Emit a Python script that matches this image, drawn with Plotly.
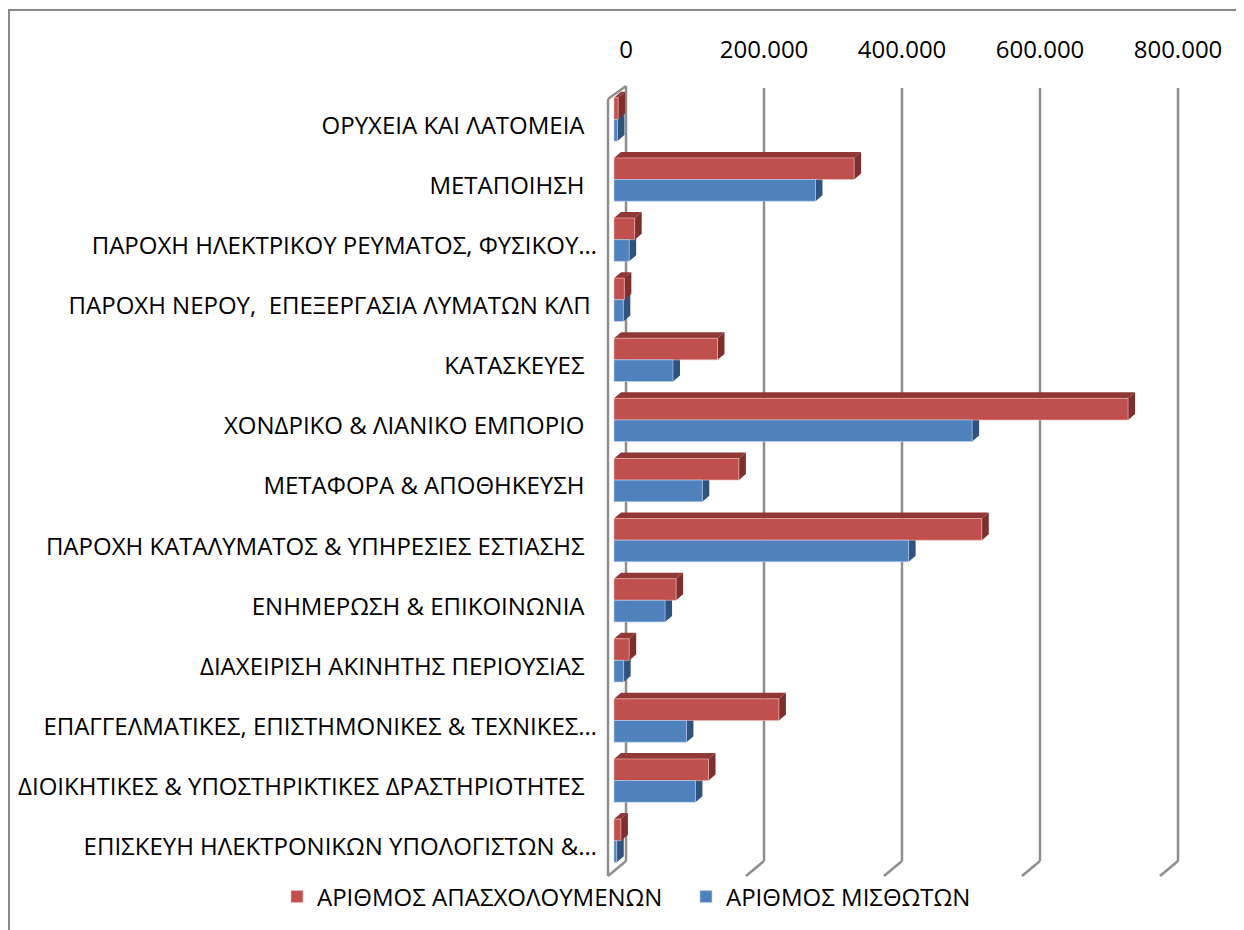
import plotly.graph_objects as go

# ---------------- data ----------------
categories = [
    "ΟΡΥΧΕΙΑ ΚΑΙ ΛΑΤΟΜΕΙΑ",
    "ΜΕΤΑΠΟΙΗΣΗ",
    "ΠΑΡΟΧΗ ΗΛΕΚΤΡΙΚΟΥ ΡΕΥΜΑΤΟΣ, ΦΥΣΙΚΟΥ…",
    "ΠΑΡΟΧΗ ΝΕΡΟΥ,\u00a0 ΕΠΕΞΕΡΓΑΣΙΑ ΛΥΜΑΤΩΝ ΚΛΠ",
    "ΚΑΤΑΣΚΕΥΕΣ",
    "ΧΟΝΔΡΙΚΟ & ΛΙΑΝΙΚΟ ΕΜΠΟΡΙΟ",
    "ΜΕΤΑΦΟΡΑ & ΑΠΟΘΗΚΕΥΣΗ",
    "ΠΑΡΟΧΗ ΚΑΤΑΛΥΜΑΤΟΣ & ΥΠΗΡΕΣΙΕΣ ΕΣΤΙΑΣΗΣ",
    "ΕΝΗΜΕΡΩΣΗ & ΕΠΙΚΟΙΝΩΝΙΑ",
    "ΔΙΑΧΕΙΡΙΣΗ ΑΚΙΝΗΤΗΣ ΠΕΡΙΟΥΣΙΑΣ",
    "ΕΠΑΓΓΕΛΜΑΤΙΚΕΣ, ΕΠΙΣΤΗΜΟΝΙΚΕΣ & ΤΕΧΝΙΚΕΣ…",
    "ΔΙΟΙΚΗΤΙΚΕΣ & ΥΠΟΣΤΗΡΙΚΤΙΚΕΣ ΔΡΑΣΤΗΡΙΟΤΗΤΕΣ",
    "ΕΠΙΣΚΕΥΗ ΗΛΕΚΤΡΟΝΙΚΩΝ ΥΠΟΛΟΓΙΣΤΩΝ &…",
]
# trailing padding (in spaces) of each label, as laid out in the original
label_pad = [2, 2, 0, 1, 2, 2, 2, 2, 2, 2, 0, 2, 0]

series_names = ["ΑΡΙΘΜΟΣ ΑΠΑΣΧΟΛΟΥΜΕΝΩΝ", "ΑΡΙΘΜΟΣ ΜΙΣΘΩΤΩΝ"]
employed = [6000, 348000, 30000, 15000, 150000, 745000, 181000, 533000, 90000, 22000, 239000, 137000, 10000]
employees = [5000, 292000, 22000, 13500, 85500, 519000, 128000, 427000, 74000, 14000, 105000, 118000, 4000]

tick_values = [0, 200000, 400000, 600000, 800000]
tick_labels = ["0", "200.000", "400.000", "600.000", "800.000"]

# ---------------- style / geometry ----------------
FONT = "Open Sans"
RED, RED_TOP, RED_SIDE = "#C0504D", "#913836", "#7E2F2D"
BLUE, BLUE_SIDE = "#4F81BD", "#30527F"
GRID = "#8E8E8E"

BODY = 8                   # page body margin: figure origin sits at (8, 8)
W, H = 1244 - BODY, 930 - BODY


def P(px):                 # page pixel -> figure pixel
    return px - BODY


PL, PR = P(600), P(1200)   # plot area left/right
PT, PB = P(78), P(880)     # plot area top/bottom
X0PX = P(614)              # front-plane zero
XPX_PER_UNIT = 138 / 200000
Y0PX, YPX_PER_CAT = P(119.5), 60.18

x_range = [(PL - X0PX) / XPX_PER_UNIT, (PR - X0PX) / XPX_PER_UNIT]
y_range = [(PB - Y0PX) / YPX_PER_CAT, (PT - Y0PX) / YPX_PER_CAT]


def dxu(px):
    return px / XPX_PER_UNIT


def yidx(px):
    return (P(px) - Y0PX) / YPX_PER_CAT


def dyu(px):
    return px / YPX_PER_CAT


def paper_x(page_px):
    return (P(page_px) - PL) / (PR - PL)


def paper_y(page_px):
    return (PB - P(page_px)) / (PB - PT)


BAR_W = 0.36
BDX, BDY = dxu(7), dyu(6)      # bar depth
BACK_DX = dxu(12)               # back wall offset from bar front plane
WALL_FRONT_X = dxu(-6)
G_TOP, G_BOT = yidx(88), yidx(862)
FLOOR_FRONT = yidx(877)
WALL_TOP_FRONT = yidx(99)

n = len(categories)
idx = list(range(n))

shapes = []


def line(x0, y0, x1, y1):
    shapes.append(dict(type="line", xref="x", yref="y", x0=x0, y0=y0, x1=x1, y1=y1,
                       line=dict(color=GRID, width=2.5), layer="below"))


def poly(pts, color):
    path = "M " + " L ".join(f"{px},{py}" for px, py in pts) + " Z"
    shapes.append(dict(type="path", xref="x", yref="y", path=path, fillcolor=color,
                       line=dict(width=0), layer="below"))


# back-wall gridlines and floor lines
for t in tick_values:
    bx = t + BACK_DX
    line(bx, G_TOP, bx, G_BOT)
    line(bx, G_BOT, bx - dxu(18), FLOOR_FRONT)
# left side wall
line(WALL_FRONT_X, WALL_TOP_FRONT, WALL_FRONT_X, FLOOR_FRONT)
line(WALL_FRONT_X, WALL_TOP_FRONT, BACK_DX, G_TOP - dyu(2))
line(BACK_DX, G_TOP - dyu(2), BACK_DX, G_TOP)

# 3-D faces of the bars
for i, (r, b) in enumerate(zip(employed, employees)):
    poly([(b, i), (b + BDX, i - BDY), (b + BDX, i + BAR_W - BDY), (b, i + BAR_W)], BLUE_SIDE)
    top = i - BAR_W
    poly([(0, top), (BDX, top - BDY), (r + BDX, top - BDY), (r, top)], RED_TOP)
    poly([(r, top), (r + BDX, top - BDY), (r + BDX, i - BDY), (r, i)], RED_SIDE)

fig = go.Figure()
fig.add_trace(go.Bar(
    y=idx, x=employed, orientation="h", name=series_names[0], legend="legend",
    width=BAR_W, offset=-BAR_W,
    marker=dict(color=RED, line=dict(color="rgba(240,190,190,0.6)", width=1)),
))
fig.add_trace(go.Bar(
    y=idx, x=employees, orientation="h", name=series_names[1], legend="legend2",
    width=BAR_W, offset=0,
    marker=dict(color=BLUE, line=dict(color="rgba(190,210,240,0.6)", width=1)),
))

ticktext = [c + "\u00a0" * p for c, p in zip(categories, label_pad)]

# chart frame
shapes.append(dict(type="rect", xref="paper", yref="paper",
                   x0=paper_x(9), x1=paper_x(1270),
                   y0=paper_y(960), y1=paper_y(10),
                   line=dict(color="#8A8A8A", width=2), fillcolor="rgba(0,0,0,0)", layer="below"))

legend_common = dict(orientation="h", yanchor="middle", y=paper_y(897), xanchor="left",
                     font=dict(family=FONT, size=24), itemwidth=30,
                     bgcolor="rgba(0,0,0,0)", borderwidth=0)

fig.update_layout(
    width=W, height=H,
    margin=dict(l=PL, r=W - PR, t=PT, b=H - PB, pad=0),
    paper_bgcolor="white", plot_bgcolor="rgba(0,0,0,0)",
    barmode="overlay",
    font=dict(family=FONT, size=24, color="black"),
    showlegend=True,
    legend=dict(x=paper_x(277), **legend_common),
    legend2=dict(x=paper_x(686), **legend_common),
    shapes=shapes,
    xaxis=dict(range=x_range, side="top", showgrid=False, zeroline=False,
               showline=False, tickmode="array",
               tickvals=[t + BACK_DX for t in tick_values], ticktext=tick_labels,
               ticks="", ticklabelstandoff=14, fixedrange=True, automargin=False),
    yaxis=dict(range=y_range, showgrid=False, zeroline=False, showline=False,
               tickmode="array", tickvals=[i + 0.1 for i in idx], ticktext=ticktext,
               ticks="", ticklabelstandoff=2, fixedrange=True, automargin=False),
)

fig.write_html("out.html")
